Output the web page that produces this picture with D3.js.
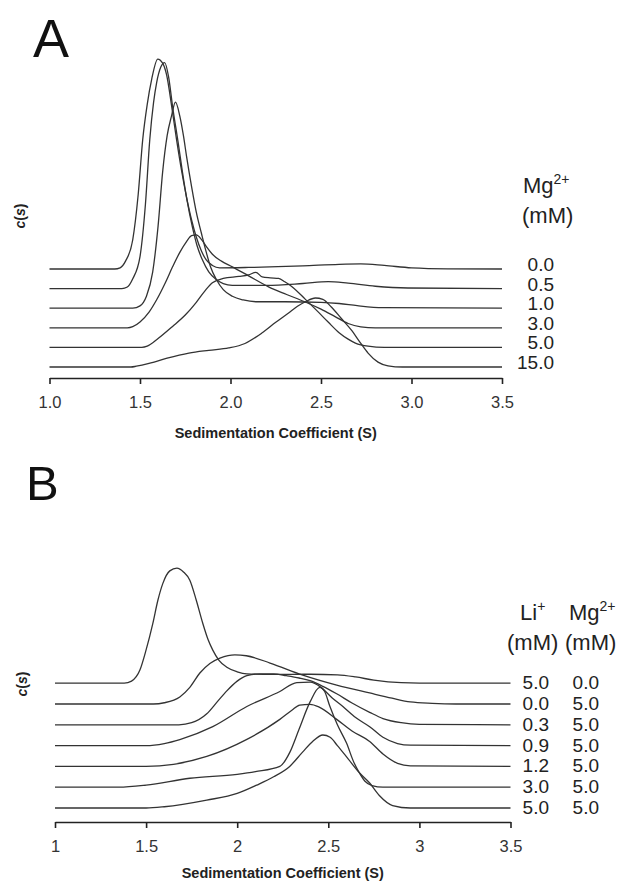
<!DOCTYPE html>
<html>
<head>
<meta charset="utf-8">
<script src="https://cdn.jsdelivr.net/npm/d3@7"></script>
<style>
  body { margin: 0; background: #fff; }
  svg { font-family: "Liberation Sans", Arial, sans-serif; }
</style>
</head>
<body>
<div id="chart"></div>
<script>
// ---- data: [S, c(s)] per trace ----
// panel A, Mg2+ titration
var mgA00 = [[1.0,0],[1.36,0],[1.39,0.006],[1.42,0.04],[1.46,0.15],[1.49,0.38],[1.515,0.66],[1.54,0.84],[1.565,0.97],[1.598,1.071],[1.625,1.05],[1.647,0.99],[1.675,0.83],[1.702,0.66],[1.73,0.5],[1.757,0.367],[1.785,0.25],[1.811,0.163],[1.84,0.09],[1.866,0.046],[1.9,0.018],[1.94,0.006],[2.1,0.008],[2.4,0.016],[2.6,0.024],[2.72,0.026],[2.85,0.018],[3.0,0.006],[3.2,0.001],[3.5,0]];
var mgA05 = [[1.0,0],[1.40,0],[1.43,0.008],[1.46,0.05],[1.50,0.163],[1.53,0.43],[1.554,0.76],[1.575,0.95],[1.592,1.051],[1.615,1.13],[1.636,1.153],[1.658,1.08],[1.68,0.929],[1.71,0.75],[1.735,0.592],[1.76,0.45],[1.789,0.316],[1.815,0.22],[1.844,0.148],[1.88,0.085],[1.921,0.046],[1.96,0.025],[2.01,0.016],[2.2,0.016],[2.4,0.026],[2.54,0.036],[2.65,0.028],[2.8,0.012],[2.98,0.003],[3.5,0]];
var mgA10 = [[1.0,0],[1.46,0],[1.50,0.012],[1.535,0.06],[1.57,0.184],[1.60,0.42],[1.625,0.694],[1.65,0.88],[1.674,0.98],[1.696,1.051],[1.72,0.98],[1.74,0.88],[1.757,0.776],[1.785,0.62],[1.811,0.49],[1.84,0.38],[1.866,0.286],[1.89,0.21],[1.921,0.148],[1.96,0.095],[2.01,0.061],[2.07,0.042],[2.14,0.033],[2.3,0.033],[2.5,0.03],[2.6,0.024],[2.7,0.013],[2.84,0.003],[3.5,0]];
var mgA30 = [[1.0,0],[1.43,0],[1.46,0.006],[1.5,0.03],[1.55,0.08],[1.592,0.143],[1.64,0.23],[1.68,0.311],[1.72,0.385],[1.757,0.44],[1.785,0.47],[1.811,0.474],[1.84,0.45],[1.87,0.41],[1.9,0.375],[1.95,0.34],[2.01,0.311],[2.1,0.265],[2.21,0.209],[2.31,0.17],[2.41,0.133],[2.5,0.095],[2.58,0.056],[2.65,0.022],[2.72,0.005],[2.8,0],[3.5,0]];
var mgA50 = [[1.0,0],[1.51,0],[1.54,0.006],[1.6,0.045],[1.68,0.107],[1.75,0.165],[1.811,0.23],[1.86,0.29],[1.9,0.33],[1.96,0.352],[2.047,0.362],[2.1,0.37],[2.14,0.383],[2.175,0.36],[2.22,0.355],[2.266,0.352],[2.3,0.335],[2.338,0.311],[2.414,0.245],[2.48,0.185],[2.541,0.128],[2.6,0.075],[2.65,0.042],[2.69,0.022],[2.76,0.006],[2.85,0],[3.5,0]];
var mgA150 = [[1.0,0],[1.45,0],[1.48,0.004],[1.55,0.018],[1.65,0.045],[1.77,0.071],[1.88,0.085],[1.99,0.097],[2.08,0.12],[2.173,0.173],[2.25,0.228],[2.321,0.276],[2.37,0.31],[2.414,0.333],[2.469,0.352],[2.51,0.345],[2.557,0.306],[2.61,0.25],[2.667,0.189],[2.72,0.12],[2.76,0.071],[2.815,0.025],[2.87,0.006],[2.95,0],[3.5,0]];
var tracesA = [mgA00, mgA05, mgA10, mgA30, mgA50, mgA150];
var offsetsA = [0.5, 0.4, 0.3, 0.2, 0.1, 0];
var labelsA = ["0.0", "0.5", "1.0", "3.0", "5.0", "15.0"];
var ticksA = [1.0, 1.5, 2.0, 2.5, 3.0, 3.5];

// panel B, Li+ with 5 mM Mg2+
var liB1 = [[1.0,0],[1.38,0],[1.42,0.01],[1.466,0.063],[1.50,0.16],[1.537,0.288],[1.565,0.40],[1.592,0.48],[1.63,0.54],[1.669,0.553],[1.705,0.535],[1.74,0.495],[1.775,0.40],[1.811,0.288],[1.84,0.21],[1.866,0.159],[1.90,0.11],[1.943,0.077],[2.0,0.055],[2.053,0.045],[2.2,0.042],[2.4,0.043],[2.55,0.04],[2.65,0.03],[2.75,0.015],[2.9,0.003],[3.1,0],[3.5,0]];
var liB2 = [[1.0,0],[1.54,0],[1.6,0.006],[1.685,0.034],[1.74,0.08],[1.795,0.149],[1.85,0.195],[1.905,0.221],[1.95,0.233],[1.987,0.236],[2.05,0.232],[2.18,0.197],[2.36,0.139],[2.546,0.091],[2.727,0.053],[2.85,0.028],[2.95,0.01],[3.07,0.003],[3.2,0],[3.5,0]];
var liB3 = [[1.0,0],[1.68,0],[1.75,0.01],[1.833,0.053],[1.89,0.11],[1.943,0.163],[2.0,0.21],[2.053,0.236],[2.124,0.245],[2.2,0.245],[2.27,0.236],[2.34,0.225],[2.40,0.212],[2.47,0.185],[2.546,0.149],[2.63,0.105],[2.727,0.06],[2.8,0.03],[2.9,0.01],[3.0,0.002],[3.5,0]];
var liB4 = [[1.0,0],[1.5,0],[1.6,0.01],[1.685,0.029],[1.866,0.091],[2.053,0.188],[2.234,0.26],[2.327,0.303],[2.40,0.305],[2.46,0.28],[2.52,0.23],[2.58,0.188],[2.65,0.135],[2.727,0.091],[2.8,0.04],[2.88,0.01],[2.95,0.002],[3.5,0]];
var liB5 = [[1.0,0],[1.5,0],[1.65,0.01],[1.833,0.048],[2.053,0.13],[2.234,0.226],[2.30,0.27],[2.343,0.295],[2.40,0.298],[2.45,0.285],[2.546,0.226],[2.63,0.17],[2.727,0.12],[2.8,0.06],[2.88,0.015],[2.95,0.003],[3.5,0]];
var liB6 = [[1.0,0],[1.35,0],[1.5,0.01],[1.74,0.043],[2.0,0.062],[2.1,0.075],[2.234,0.1],[2.29,0.17],[2.34,0.28],[2.40,0.41],[2.453,0.48],[2.48,0.46],[2.508,0.39],[2.55,0.3],[2.6,0.212],[2.64,0.12],[2.672,0.067],[2.70,0.03],[2.74,0.008],[2.8,0],[3.5,0]];
var liB7 = [[1.0,0],[1.5,0],[1.6,0.006],[1.833,0.038],[2.0,0.07],[2.107,0.11],[2.2,0.15],[2.288,0.2],[2.36,0.27],[2.414,0.32],[2.47,0.351],[2.51,0.34],[2.55,0.3],[2.61,0.235],[2.672,0.168],[2.727,0.12],[2.78,0.06],[2.853,0.012],[2.95,0],[3.5,0]];
var tracesB = [liB1, liB2, liB3, liB4, liB5, liB6, liB7];
var offsetsB = [0.6, 0.5, 0.4, 0.3, 0.2, 0.1, 0];
var liLabels = ["5.0", "0.0", "0.3", "0.9", "1.2", "3.0", "5.0"];
var mgLabels = ["0.0", "5.0", "5.0", "5.0", "5.0", "5.0", "5.0"];
var ticksB = [1, 1.5, 2, 2.5, 3, 3.5];

var W = 622, H = 883;
var svg = d3.select("#chart").append("svg")
    .attr("width", W)
    .attr("height", H);

var lineColor = "#333";

function drawPanel(p) {
  var x = d3.scaleLinear().domain([1, 3.5]).range([p.x0, p.x1]);
  var y = d3.scaleLinear().domain([0, 1]).range([p.yBase, p.yBase - p.pxPerUnit]);
  var g = svg.append("g");

  var line = d3.line()
      .x(function(d) { return x(d[0]); })
      .y(function(d) { return y(d[1] + d.off); })
      .curve(d3.curveMonotoneX);

  p.traces.forEach(function(tr, i) {
    var pts = tr.map(function(d) { var a = [d[0], d[1]]; a.off = p.offsets[i]; return a; });
    g.append("path")
      .attr("d", line(pts))
      .attr("fill", "none")
      .attr("stroke", lineColor)
      .attr("stroke-width", 1.3);
  });

  // x axis, ticks pointing down
  var axis = d3.axisBottom(x)
      .tickValues(p.ticks)
      .tickFormat(p.fmt)
      .tickSize(6)
      .tickSizeOuter(0)
      .tickPadding(12);
  var ax = g.append("g")
      .attr("transform", "translate(0," + p.axisY + ")")
      .call(axis);
  ax.select(".domain").attr("stroke", "#222").attr("stroke-width", 1.6);
  ax.selectAll(".tick line").attr("stroke", "#222").attr("stroke-width", 1.6);
  ax.selectAll(".tick text")
      .attr("fill", "#333")
      .style("font-size", "16.5px")
      .style("font-family", "'Liberation Sans', Arial, sans-serif");

  g.append("text")
      .attr("x", (p.x0 + p.x1) / 2)
      .attr("y", p.axisY + p.titleDy)
      .attr("text-anchor", "middle")
      .attr("font-weight", "bold")
      .attr("font-size", 14.5)
      .attr("fill", "#222")
      .text("Sedimentation Coefficient (S)");

  // y label c(s)
  var yl = g.append("text")
      .attr("transform", "translate(" + p.ylabX + "," + p.ylabY + ") rotate(-90)")
      .attr("text-anchor", "middle")
      .attr("font-weight", "bold")
      .attr("font-size", 14)
      .attr("fill", "#222");
  yl.append("tspan").attr("font-style", "italic").text("c");
  yl.append("tspan").text("(");
  yl.append("tspan").attr("font-style", "italic").text("s");
  yl.append("tspan").text(")");

  // panel letter
  g.append("text")
      .attr("x", p.letterX)
      .attr("y", p.letterY)
      .attr("font-size", p.letterSize)
      .attr("fill", "#111")
      .text(p.letter);

  return { x: x, y: y, g: g };
}

// ---- panel A ----
var A = drawPanel({
  x0: 49.5, x1: 502, yBase: 367, pxPerUnit: 196, axisY: 378, titleDy: 60,
  traces: tracesA, offsets: offsetsA, ticks: ticksA,
  fmt: d3.format(".1f"), ylabX: 25, ylabY: 216,
  letter: "A", letterX: 33, letterY: 57, letterSize: 54
});

var hdrA = A.g.append("g").attr("fill", "#222").attr("font-size", 22);
var t1 = hdrA.append("text").attr("x", 523).attr("y", 193);
t1.append("tspan").text("Mg");
t1.append("tspan").attr("font-size", 14).attr("dy", -9).text("2+");
hdrA.append("text").attr("x", 522).attr("y", 223).text("(mM)");

A.g.selectAll(".lblA").data(labelsA).enter().append("text")
    .attr("x", 554)
    .attr("y", function(d, i) { return A.y(offsetsA[i]) + 2; })
    .attr("text-anchor", "end")
    .attr("font-size", 19)
    .attr("fill", "#222")
    .text(function(d) { return d; });

// ---- panel B ----
var B = drawPanel({
  x0: 55, x1: 510.5, yBase: 808, pxPerUnit: 208, axisY: 822, titleDy: 56,
  traces: tracesB, offsets: offsetsB, ticks: ticksB,
  fmt: d3.format(""), ylabX: 27, ylabY: 684,
  letter: "B", letterX: 26, letterY: 500, letterSize: 49
});

var hdrB = B.g.append("g").attr("fill", "#222").attr("font-size", 22);
var t2 = hdrB.append("text").attr("x", 520).attr("y", 620);
t2.append("tspan").text("Li");
t2.append("tspan").attr("font-size", 14).attr("dy", -9).text("+");
var t3 = hdrB.append("text").attr("x", 569).attr("y", 620);
t3.append("tspan").text("Mg");
t3.append("tspan").attr("font-size", 14).attr("dy", -9).text("2+");
hdrB.append("text").attr("x", 507).attr("y", 650).text("(mM)");
hdrB.append("text").attr("x", 565).attr("y", 650).text("(mM)");

B.g.selectAll(".lblLi").data(liLabels).enter().append("text")
    .attr("x", 549)
    .attr("y", function(d, i) { return B.y(offsetsB[i]) + 6; })
    .attr("text-anchor", "end")
    .attr("font-size", 19)
    .attr("fill", "#222")
    .text(function(d) { return d; });

B.g.selectAll(".lblMg").data(mgLabels).enter().append("text")
    .attr("x", 599)
    .attr("y", function(d, i) { return B.y(offsetsB[i]) + 6; })
    .attr("text-anchor", "end")
    .attr("font-size", 19)
    .attr("fill", "#222")
    .text(function(d) { return d; });
</script>
</body>
</html>
